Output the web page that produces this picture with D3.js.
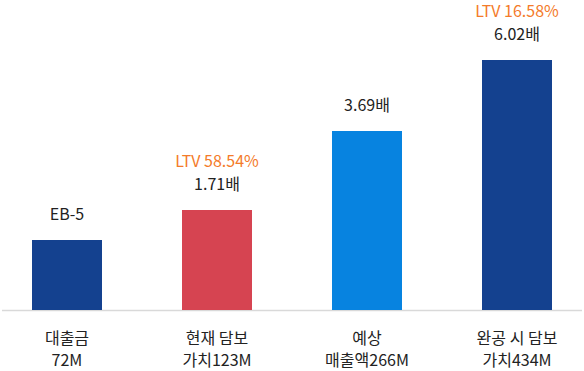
<!DOCTYPE html>
<html>
<head>
<meta charset="utf-8">
<script src="https://cdn.jsdelivr.net/npm/d3@7"></script>
<style>
  html, body { margin: 0; padding: 0; background: #fff; }
  svg text { font-family: "Noto Sans CJK KR", "Noto Sans", sans-serif; font-size: 16px; }
</style>
</head>
<body>
<div id="chart"></div>
<script>
// categories: two-line labels under each bar
const catLine1 = ["대출금", "현재 담보", "예상", "완공 시 담보"];
const catLine2 = ["72M", "가치123M", "매출액266M", "가치434M"];
// amounts in millions (shown in the labels)
const amounts = [72, 123, 266, 434];
// bar length as drawn, % of tallest bar (chart is not to scale)
const barLevels = [28, 40, 71.6, 100];
const valueLabels = ["EB-5", "1.71배", "3.69배", "6.02배"];
const ltvLabels = [null, "LTV 58.54%", null, "LTV 16.58%"];
const barColors = ["#14418f", "#d64451", "#0783e0", "#14418f"];

const width = 584, height = 371;
const baseY = 310, topY = 60;

const svg = d3.select("#chart").append("svg")
  .attr("width", width)
  .attr("height", height);

const x = d3.scaleBand()
  .domain(d3.range(amounts.length))
  .range([-8, 592])
  .paddingInner(8 / 15)
  .paddingOuter(4 / 15);

const y = d3.scaleLinear()
  .domain([0, 100])
  .range([baseY, topY]);

const data = amounts.map((a, i) => ({
  i, amount: a, level: barLevels[i],
  l1: catLine1[i], l2: catLine2[i],
  val: valueLabels[i], ltv: ltvLabels[i], color: barColors[i]
}));

// baseline
svg.append("line")
  .attr("x1", 2).attr("x2", 582)
  .attr("y1", baseY + 0.5).attr("y2", baseY + 0.5)
  .style("stroke", "#d9d9d9")
  .style("stroke-width", 1.5);

svg.selectAll(".bar").data(data).enter()
  .append("rect")
  .attr("class", "bar")
  .attr("x", d => x(d.i))
  .attr("width", x.bandwidth())
  .attr("y", d => y(d.level))
  .attr("height", d => baseY - y(d.level))
  .style("fill", d => d.color);

const cx = d => x(d.i) + x.bandwidth() / 2;

svg.selectAll(".val").data(data).enter()
  .append("text")
  .attr("class", "val")
  .attr("x", cx)
  .attr("y", d => y(d.level) - 20)
  .attr("text-anchor", "middle")
  .style("fill", "#222")
  .text(d => d.val);

svg.selectAll(".ltv").data(data.filter(d => d.ltv)).enter()
  .append("text")
  .attr("class", "ltv")
  .attr("x", cx)
  .attr("y", d => y(d.level) - 43.5)
  .attr("text-anchor", "middle")
  .style("fill", "#f47b2a")
  .text(d => d.ltv);

const cats = svg.selectAll(".cat").data(data).enter()
  .append("text")
  .attr("class", "cat")
  .attr("text-anchor", "middle")
  .style("fill", "#222");
cats.append("tspan").attr("x", cx).attr("y", baseY + 34).text(d => d.l1);
cats.append("tspan").attr("x", cx).attr("y", baseY + 56).text(d => d.l2);
</script>
</body>
</html>
